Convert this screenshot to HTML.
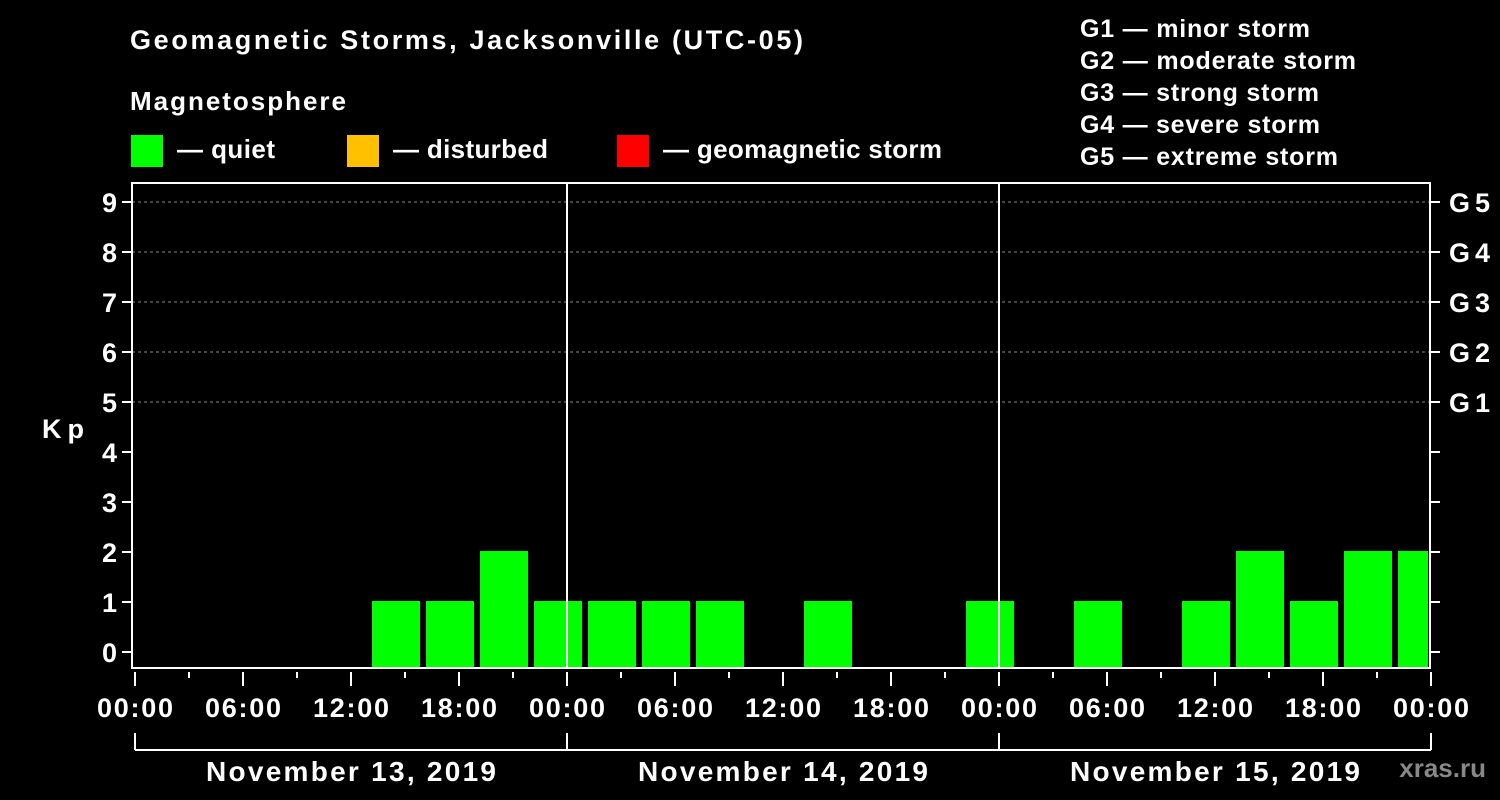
<!DOCTYPE html>
<html><head><meta charset="utf-8"><style>
html,body{margin:0;padding:0;background:#000;}
svg{display:block;font-family:"Liberation Sans",Arial,sans-serif;font-weight:bold;}
</style></head><body>
<svg width="1500" height="800" viewBox="0 0 1500 800">
<text x="130" y="49" fill="#fff" font-size="27" textLength="673" lengthAdjust="spacing">Geomagnetic Storms, Jacksonville (UTC-05)</text>
<text x="130" y="110" fill="#fff" font-size="26" textLength="216" lengthAdjust="spacing">Magnetosphere</text>
<g><rect x="131" y="135" width="32" height="32" fill="#00ff00"/><text x="177" y="158" fill="#fff" font-size="26" textLength="98" lengthAdjust="spacing">— quiet</text></g>
<g><rect x="347" y="135" width="32" height="32" fill="#ffc000"/><text x="393" y="158" fill="#fff" font-size="26" textLength="155" lengthAdjust="spacing">— disturbed</text></g>
<g><rect x="617" y="135" width="32" height="32" fill="#ff0000"/><text x="663" y="158" fill="#fff" font-size="26" textLength="279" lengthAdjust="spacing">— geomagnetic storm</text></g>
<g fill="#fff" font-size="25">
<text x="1080" y="37" textLength="230" lengthAdjust="spacing">G1 — minor storm</text>
<text x="1080" y="69" textLength="276" lengthAdjust="spacing">G2 — moderate storm</text>
<text x="1080" y="101" textLength="239" lengthAdjust="spacing">G3 — strong storm</text>
<text x="1080" y="133" textLength="240" lengthAdjust="spacing">G4 — severe storm</text>
<text x="1080" y="165" textLength="258" lengthAdjust="spacing">G5 — extreme storm</text>
</g>
<text x="42" y="438" fill="#fff" font-size="27" textLength="42" lengthAdjust="spacing">Kp</text>
<text x="1486" y="777" fill="#888" font-size="26" text-anchor="end">xras.ru</text>
<g id="grid"></g>
<g id="bars"></g>
<g id="axes"></g>
</svg>
<script>
const slotStartHours=[-2,1,4,7,10,13,16,19,22,25,28,31,34,37,40,43,46,49,52,55,58,61,64,67,70];
const kpValues=[0,0,0,0,0,1,1,2,1,1,1,1,0,1,0,0,1,0,1,0,1,2,1,2,2];
const yTicks=[0,1,2,3,4,5,6,7,8,9];
const gLabels=["","","","","","G1","G2","G3","G4","G5"];
const xTickLabels=["00:00","06:00","12:00","18:00","00:00","06:00","12:00","18:00","00:00","06:00","12:00","18:00","00:00"];
const dayLabels=["November 13, 2019","November 14, 2019","November 15, 2019"];
const NS="http://www.w3.org/2000/svg";
const X0=135,PX_H=18,Y0=652,PX_K=50,TOP=183,BOT=668,LEFT=132,RIGHT=1430;
const x=h=>X0+h*PX_H, y=k=>Y0-k*PX_K;
function mk(tag,attrs,parent,text){const e=document.createElementNS(NS,tag);for(const k in attrs)e.setAttribute(k,attrs[k]);if(text!=null)e.textContent=text;document.getElementById(parent).appendChild(e);return e;}
yTicks.forEach((k,i)=>{
 if(k>=5){const g=mk('line',{x1:LEFT,x2:RIGHT,y1:y(k),y2:y(k),stroke:'#888','stroke-dasharray':'3,3','stroke-width':1},'grid');
 
 }
});
slotStartHours.forEach((h,i)=>{
 const v=kpValues[i]; if(v<=0)return;
 let x1=x(h)+3,x2=x(h+3)-3; x1=Math.max(x1,LEFT+1); x2=Math.min(x2,RIGHT-2);
 const c=v>=5?'#ff0000':(v>=4?'#ffc000':'#00ff00');
 const top=y(v)-1;
 const r=mk('rect',{x:x1,y:top,width:x2-x1,height:BOT-top,fill:c},'bars');
 
 
});
const f=mk('rect',{x:LEFT,y:TOP,width:RIGHT-LEFT,height:BOT-TOP,fill:'none',stroke:'#fff','stroke-width':2},'axes');


[24,48].forEach(h=>{const l=mk('line',{x1:x(h),x2:x(h),y1:TOP,y2:BOT,stroke:'#fff','stroke-width':2},'axes');

});
yTicks.forEach((k,i)=>{
 mk('line',{x1:122,x2:LEFT,y1:y(k),y2:y(k),stroke:'#fff','stroke-width':2},'axes');
 mk('line',{x1:RIGHT,x2:RIGHT+10,y1:y(k),y2:y(k),stroke:'#fff','stroke-width':2},'axes');
 const t=mk('text',{x:117,y:y(k)+10,fill:'#fff','font-size':27,'text-anchor':'end'},'axes',k);
 
 
 if(gLabels[i]){const g=mk('text',{x:1449,y:y(k)+10,fill:'#fff','font-size':27,textLength:41,lengthAdjust:'spacing'},'axes',gLabels[i]);
 
 }
});
for(let h=0;h<=72;h+=3){mk('line',{x1:x(h),x2:x(h),y1:BOT+4,y2:h%6===0?686:678,stroke:'#fff','stroke-width':2},'axes');}
xTickLabels.forEach((s,i)=>{const t=mk('text',{x:x(i*6)-38,y:717,fill:'#fff','font-size':27,textLength:76,lengthAdjust:'spacing'},'axes',s);

});
mk('line',{x1:x(0),x2:x(72),y1:750,y2:750,stroke:'#fff','stroke-width':2},'axes');
for(let d=0;d<=3;d++)mk('line',{x1:x(d*24),x2:x(d*24),y1:733,y2:750,stroke:'#fff','stroke-width':2},'axes');
dayLabels.forEach((s,i)=>{const t=mk('text',{x:x(i*24+12)-145,y:781,fill:'#fff','font-size':28,textLength:290,lengthAdjust:'spacing'},'axes',s);

});
</script>
</body></html>
